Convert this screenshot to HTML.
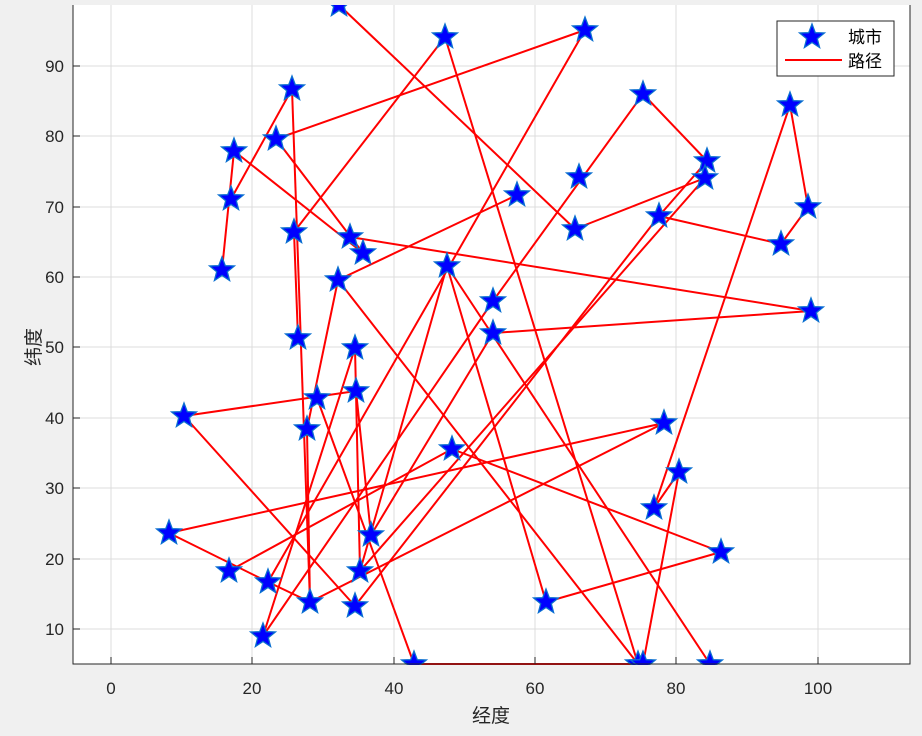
<!DOCTYPE html>
<html><head><meta charset="utf-8"><style>
body{margin:0;background:#f0f0f0;}
svg{display:block;font-family:"Liberation Sans","Noto Sans CJK SC",sans-serif;}
</style></head><body>
<svg width="922" height="736" viewBox="0 0 922 736">
<defs>
<path id="st" d="M0,-13 L3.3,-4.3 L12.4,-4 L5.3,1.7 L7.6,10.5 L0,5.4 L-7.6,10.5 L-5.3,1.7 L-12.4,-4 L-3.3,-4.3 Z" fill="#0000ff" stroke="#0a6fd0" stroke-width="1.3"/>
</defs>
<rect x="73" y="5" width="837" height="659" fill="#fff"/>
<g stroke="#dcdcdc" stroke-width="1">
<line x1="111" y1="5" x2="111" y2="664"/><line x1="252" y1="5" x2="252" y2="664"/><line x1="394" y1="5" x2="394" y2="664"/><line x1="535" y1="5" x2="535" y2="664"/><line x1="676" y1="5" x2="676" y2="664"/><line x1="818" y1="5" x2="818" y2="664"/>
<line x1="73" y1="66" x2="910" y2="66"/><line x1="73" y1="136" x2="910" y2="136"/><line x1="73" y1="207" x2="910" y2="207"/><line x1="73" y1="277" x2="910" y2="277"/><line x1="73" y1="347" x2="910" y2="347"/><line x1="73" y1="418" x2="910" y2="418"/><line x1="73" y1="488" x2="910" y2="488"/><line x1="73" y1="559" x2="910" y2="559"/><line x1="73" y1="629" x2="910" y2="629"/>
</g>
<g stroke="#ff0000" stroke-width="2" fill="none">
<line x1="222" y1="270" x2="234" y2="151"/><line x1="234" y1="151" x2="363" y2="253"/><line x1="231" y1="199" x2="292" y2="89"/><line x1="292" y1="89" x2="310" y2="602"/><line x1="294" y1="232" x2="298" y2="338"/>
<line x1="276" y1="139" x2="363" y2="253"/><line x1="276" y1="139" x2="585" y2="30"/><line x1="585" y1="30" x2="268" y2="582"/><line x1="445" y1="37" x2="294" y2="232"/><line x1="445" y1="37" x2="638" y2="664"/>
<line x1="339" y1="5" x2="575" y2="229"/><line x1="575" y1="229" x2="705" y2="178"/><line x1="643" y1="94" x2="707" y2="161"/><line x1="643" y1="94" x2="493" y2="301"/>
<line x1="707" y1="161" x2="659" y2="216"/><line x1="659" y1="216" x2="781" y2="244"/><line x1="781" y1="244" x2="808" y2="207"/><line x1="808" y1="207" x2="790" y2="105"/><line x1="790" y1="105" x2="654" y2="508"/><line x1="654" y1="508" x2="679" y2="472"/><line x1="679" y1="472" x2="643" y2="664"/>
<line x1="643" y1="664" x2="414" y2="664"/><line x1="414" y1="664" x2="317" y2="398"/><line x1="350" y1="237" x2="811" y2="311"/><line x1="811" y1="311" x2="493" y2="333"/><line x1="493" y1="333" x2="371" y2="535"/><line x1="356" y1="391" x2="371" y2="535"/>
<line x1="184" y1="416" x2="356" y2="391"/><line x1="184" y1="416" x2="355" y2="606"/><line x1="169" y1="533" x2="664" y2="423"/><line x1="169" y1="533" x2="268" y2="582"/><line x1="268" y1="582" x2="310" y2="602"/><line x1="229" y1="571" x2="452" y2="449"/><line x1="452" y1="449" x2="721" y2="552"/><line x1="310" y1="602" x2="664" y2="423"/>
<line x1="517" y1="195" x2="338" y2="280"/><line x1="338" y1="280" x2="638" y2="664"/><line x1="338" y1="280" x2="307" y2="429"/><line x1="447" y1="266" x2="546" y2="602"/><line x1="447" y1="266" x2="710" y2="664"/><line x1="447" y1="266" x2="360" y2="571"/><line x1="546" y1="602" x2="721" y2="552"/>
<line x1="355" y1="606" x2="659" y2="216"/><line x1="360" y1="571" x2="705" y2="178"/><line x1="263" y1="636" x2="355" y2="348"/><line x1="263" y1="636" x2="493" y2="301"/><line x1="355" y1="348" x2="360" y2="571"/><line x1="307" y1="429" x2="310" y2="602"/>
</g>
<g>
<use href="#st" x="339" y="5"/><use href="#st" x="445" y="37"/><use href="#st" x="585" y="30"/><use href="#st" x="292" y="89"/><use href="#st" x="276" y="139"/><use href="#st" x="234" y="151"/><use href="#st" x="231" y="199"/><use href="#st" x="222" y="270"/><use href="#st" x="294" y="232"/><use href="#st" x="350" y="237"/><use href="#st" x="363" y="253"/><use href="#st" x="338" y="280"/><use href="#st" x="447" y="266"/><use href="#st" x="517" y="195"/><use href="#st" x="579" y="177"/><use href="#st" x="575" y="229"/><use href="#st" x="643" y="94"/><use href="#st" x="707" y="161"/><use href="#st" x="705" y="178"/><use href="#st" x="659" y="216"/><use href="#st" x="790" y="105"/><use href="#st" x="808" y="207"/><use href="#st" x="781" y="244"/><use href="#st" x="811" y="311"/><use href="#st" x="493" y="301"/><use href="#st" x="493" y="333"/><use href="#st" x="298" y="338"/><use href="#st" x="355" y="348"/><use href="#st" x="356" y="391"/><use href="#st" x="317" y="398"/><use href="#st" x="184" y="416"/><use href="#st" x="307" y="429"/><use href="#st" x="452" y="449"/><use href="#st" x="664" y="423"/><use href="#st" x="679" y="472"/><use href="#st" x="654" y="508"/><use href="#st" x="371" y="535"/><use href="#st" x="169" y="533"/><use href="#st" x="229" y="571"/><use href="#st" x="268" y="582"/><use href="#st" x="310" y="602"/><use href="#st" x="355" y="606"/><use href="#st" x="360" y="571"/><use href="#st" x="263" y="636"/><use href="#st" x="414" y="664"/><use href="#st" x="638" y="664"/><use href="#st" x="643" y="664"/><use href="#st" x="710" y="664"/><use href="#st" x="546" y="602"/><use href="#st" x="721" y="552"/>
</g>
<rect x="0" y="0" width="922" height="5" fill="#f0f0f0"/>
<rect x="0" y="665" width="922" height="71" fill="#f0f0f0"/>
<path d="M73,5 V664 H910 V5" fill="none" stroke="#262626" stroke-width="1"/>
<g stroke="#262626"><line x1="111" y1="664" x2="111" y2="657"/><line x1="252" y1="664" x2="252" y2="657"/><line x1="394" y1="664" x2="394" y2="657"/><line x1="535" y1="664" x2="535" y2="657"/><line x1="676" y1="664" x2="676" y2="657"/><line x1="818" y1="664" x2="818" y2="657"/>
<line x1="73" y1="66" x2="80" y2="66"/><line x1="73" y1="136" x2="80" y2="136"/><line x1="73" y1="207" x2="80" y2="207"/><line x1="73" y1="277" x2="80" y2="277"/><line x1="73" y1="347" x2="80" y2="347"/><line x1="73" y1="418" x2="80" y2="418"/><line x1="73" y1="488" x2="80" y2="488"/><line x1="73" y1="559" x2="80" y2="559"/><line x1="73" y1="629" x2="80" y2="629"/></g>
<g font-size="17" fill="#262626" text-anchor="middle">
<text x="111" y="694">0</text><text x="252" y="694">20</text><text x="394" y="694">40</text><text x="535" y="694">60</text><text x="676" y="694">80</text><text x="818" y="694">100</text>
</g>
<g font-size="17" fill="#262626" text-anchor="end">
<text x="64" y="72">90</text><text x="64" y="142">80</text><text x="64" y="213">70</text><text x="64" y="283">60</text><text x="64" y="353">50</text><text x="64" y="424">40</text><text x="64" y="494">30</text><text x="64" y="565">20</text><text x="64" y="635">10</text>
</g>
<text x="491" y="722" font-size="19" fill="#262626" text-anchor="middle">经度</text>
<text transform="translate(40,347) rotate(-90)" font-size="19" fill="#262626" text-anchor="middle">纬度</text>
<rect x="777" y="21" width="117" height="55" fill="#fff" stroke="#262626" stroke-width="1"/>
<use href="#st" x="812" y="37"/>
<line x1="785" y1="60" x2="842" y2="60" stroke="#ff0000" stroke-width="2"/>
<text x="848" y="43" font-size="17" fill="#000">城市</text>
<text x="848" y="67" font-size="17" fill="#000">路径</text>
</svg>
</body></html>
